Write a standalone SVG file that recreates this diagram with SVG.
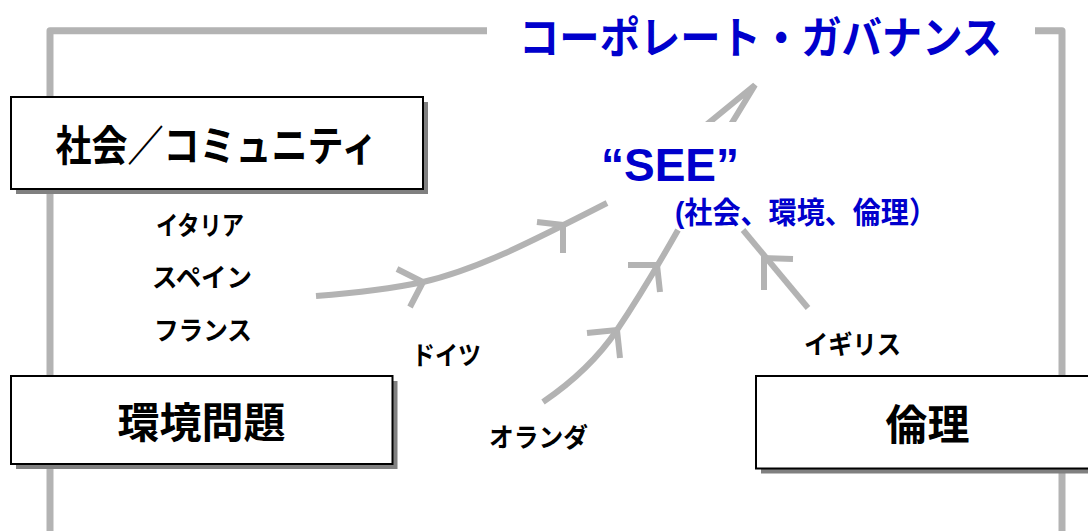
<svg xmlns="http://www.w3.org/2000/svg" width="1088" height="531" viewBox="0 0 1088 531">
  <style>
    .frame { fill: none; stroke: #b3b3b3; stroke-width: 7; stroke-linejoin: round; }
    .flow { fill: none; stroke: #b3b3b3; stroke-width: 6; stroke-linejoin: miter; }
    .box { fill: #ffffff; stroke: #000000; stroke-width: 2; }
    .shadow { fill: #808080; }
    .jp { font-family: "Liberation Sans", "Noto Sans CJK JP", sans-serif; font-weight: bold; }
    .boxlabel { font-size: 42px; fill: #000000; text-anchor: middle; }
    .country { font-size: 26px; fill: #000000; text-anchor: middle; }
    .blue { fill: #0000cc; }
  </style>
  <defs>
    <clipPath id="aboveSee">
      <rect x="0" y="0" width="1088" height="122"/>
    </clipPath>
  </defs>

  <!-- outer bracket frame -->
  <g id="frame">
    <path class="frame" d="M487,30.7 H50 V531"/>
    <path class="frame" d="M1035,30.7 H1062 V531"/>
  </g>

  <!-- flows -->
  <g id="connectors">
    <!-- left group into SEE -->
    <path class="flow" d="M316,296 C355,293 390,289 423,282 C475,270 525,245 607,203"/>
    <polyline class="flow" points="397,269 423,282 410,307"/>
    <polyline class="flow" points="537,222 563,225 563,253"/>
    <!-- Netherlands / Germany into SEE -->
    <path class="flow" d="M543,402 Q590,370 617,330 T678,230"/>
    <polyline class="flow" points="587,333 617,330 620,358"/>
    <polyline class="flow" points="628,265 657,265 660,292"/>
    <!-- UK into SEE -->
    <path class="flow" d="M808,308 L743,230"/>
    <polyline class="flow" points="793,259 764,258 764,290"/>
    <!-- SEE up to governance -->
    <polyline class="flow" clip-path="url(#aboveSee)" points="700,130 755,85 727,131"/>
  </g>

  <g id="title">
    <text class="jp blue" x="760.5" y="54" font-size="44" text-anchor="middle" textLength="483" lengthAdjust="spacingAndGlyphs">コーポレート・ガバナンス</text>
  </g>

  <g id="see">
    <text class="blue" x="601" y="181" font-family="Liberation Sans, Arial, sans-serif" font-weight="bold" font-size="46">“SEE”</text>
    <text class="jp blue" x="675" y="223" font-size="30" textLength="262" lengthAdjust="spacingAndGlyphs">(社会、環境、倫理）</text>
  </g>

  <g id="society">
    <rect class="shadow" x="16" y="102" width="412" height="92"/>
    <rect class="box" x="11" y="97" width="412" height="92"/>
    <text class="jp boxlabel" x="216.5" y="161" textLength="322" lengthAdjust="spacingAndGlyphs">社会／コミュニティ</text>
  </g>

  <g id="environment">
    <rect class="shadow" x="16" y="381" width="381.5" height="88"/>
    <rect class="box" x="11" y="376" width="381.5" height="88"/>
    <text class="jp boxlabel" x="201.5" y="438">環境問題</text>
  </g>

  <g id="ethics">
    <rect class="shadow" x="761" y="381" width="350" height="92.5"/>
    <rect class="box" x="756" y="376" width="350" height="92.5"/>
    <text class="jp boxlabel" x="927.5" y="440">倫理</text>
  </g>

  <g id="countries">
    <text class="jp country" x="200" y="235" textLength="88" lengthAdjust="spacingAndGlyphs">イタリア</text>
    <text class="jp country" x="202" y="287" textLength="100" lengthAdjust="spacingAndGlyphs">スペイン</text>
    <text class="jp country" x="203" y="339.5" textLength="98" lengthAdjust="spacingAndGlyphs">フランス</text>
    <text class="jp country" x="446.5" y="365" textLength="69" lengthAdjust="spacingAndGlyphs">ドイツ</text>
    <text class="jp country" x="538.5" y="447" textLength="99" lengthAdjust="spacingAndGlyphs">オランダ</text>
    <text class="jp country" x="852.5" y="354" textLength="97" lengthAdjust="spacingAndGlyphs">イギリス</text>
  </g>
</svg>
